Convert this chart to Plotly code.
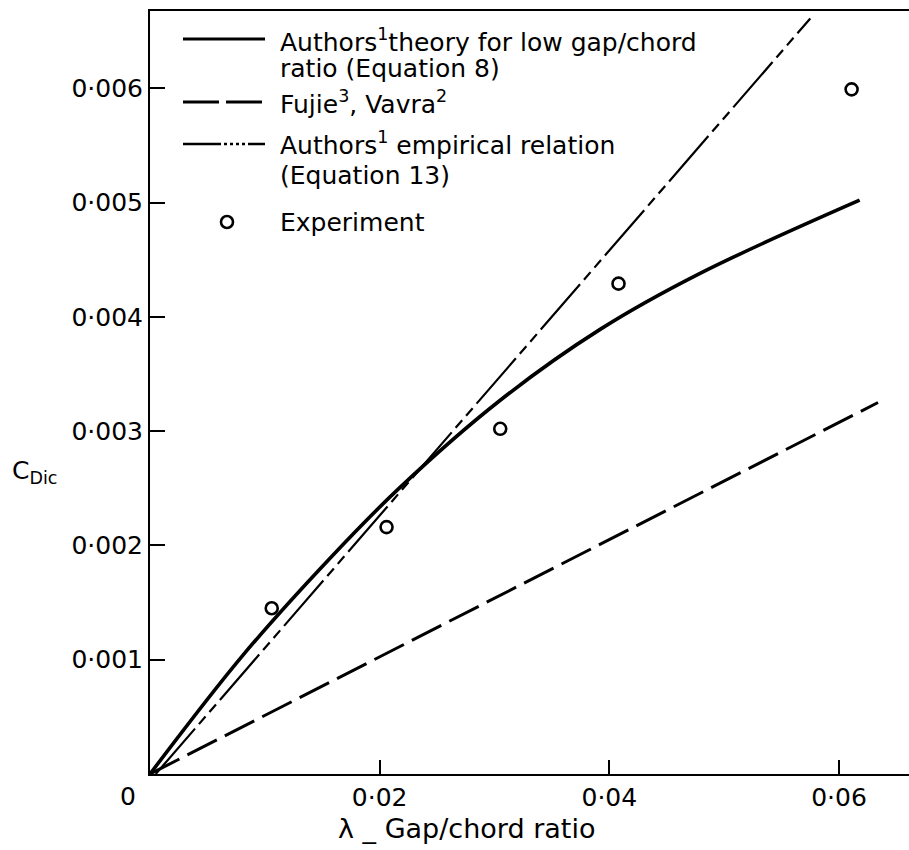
import plotly.graph_objects as go

# Gap/chord ratio (lambda) and drag coefficient C_Dic
theory_lam = [0.0, 0.0081, 0.0157, 0.0218, 0.0305, 0.0392, 0.0479, 0.0618]
theory_cd = [0.0, 0.00104, 0.00189, 0.00251, 0.00327, 0.00389, 0.00438, 0.00502]

fujie_lam = [0.0, 0.0634]
fujie_cd = [0.0, 0.00325]

empirical_lam = [0.0005, 0.0575]
empirical_cd = [0.0, 0.00661]

exp_lam = [0.0106, 0.0206, 0.0305, 0.0408, 0.0611]
exp_cd = [0.00145, 0.00216, 0.00302, 0.00429, 0.00599]

x_ticks = [0.02, 0.04, 0.06]
x_ticktext = ["0·02", "0·04", "0·06"]
y_ticks = [0.001, 0.002, 0.003, 0.004, 0.005, 0.006]
y_ticktext = ["0·001", "0·002", "0·003", "0·004", "0·005", "0·006"]

FONT = "DejaVu Sans"
W, H = 909, 850
ML, MR, MT, MB = 150, 0, 11, 76
PW, PH = W - ML - MR, H - MT - MB


def px(x):
    return (x - ML) / PW


def py(y):
    return (H - MB - y) / PH


fig = go.Figure()

fig.add_trace(go.Scatter(x=fujie_lam, y=fujie_cd, mode="lines",
                         line=dict(color="black", width=3, dash="33px,9px"),
                         showlegend=False))
fig.add_trace(go.Scatter(x=empirical_lam, y=empirical_cd, mode="lines",
                         line=dict(color="black", width=2.2,
                                   dash="60px,6px,10px,6px,10px,6px"),
                         showlegend=False))
fig.add_trace(go.Scatter(x=theory_lam, y=theory_cd, mode="lines",
                         line=dict(color="black", width=3.6, shape="spline", smoothing=1.0),
                         showlegend=False))
fig.add_trace(go.Scatter(x=exp_lam, y=exp_cd, mode="markers",
                         marker=dict(symbol="circle-open", size=12, color="black",
                                     line=dict(width=2.6, color="black")),
                         showlegend=False))

# Hand-drawn key in the upper left of the plot
shapes = []
key_x0, key_x1 = 183, 265
shapes.append(dict(type="line", xref="paper", yref="paper",
                   x0=px(key_x0), x1=px(key_x1), y0=py(39), y1=py(39),
                   line=dict(color="black", width=3)))
shapes.append(dict(type="line", xref="paper", yref="paper",
                   x0=px(key_x0), x1=px(key_x1), y0=py(102), y1=py(102),
                   line=dict(color="black", width=3, dash="36px,7px")))
shapes.append(dict(type="line", xref="paper", yref="paper",
                   x0=px(key_x0), x1=px(key_x1), y0=py(144), y1=py(144),
                   line=dict(color="black", width=2.4,
                             dash="38px,3px,3px,3px,3px,3px,3px,3px,3px,3px,30px")))
shapes.append(dict(type="circle", xref="paper", yref="paper",
                   x0=px(221), x1=px(233), y0=py(216), y1=py(228),
                   line=dict(color="black", width=2.6)))

annotations = []
key_text = [
    ("Authors<sup>1</sup>theory for low gap/chord", 40),
    ("ratio (Equation 8)", 68),
    ("Fujie<sup>3</sup>, Vavra<sup>2</sup>", 103),
    ("Authors<sup>1</sup> empirical relation", 144),
    ("(Equation 13)", 175),
    ("Experiment", 222),
]
for txt, yy in key_text:
    annotations.append(dict(text=txt, xref="paper", yref="paper", x=px(278), y=py(yy),
                            xanchor="left", yanchor="middle", showarrow=False,
                            font=dict(family=FONT, size=25, color="black")))

annotations.append(dict(text="0", xref="paper", yref="paper", x=px(128), y=py(796),
                        xanchor="center", yanchor="middle", showarrow=False,
                        font=dict(family=FONT, size=25, color="black")))
annotations.append(dict(text="C<sub>Dic</sub>", xref="paper", yref="paper", x=px(10), y=py(472),
                        xanchor="left", yanchor="middle", showarrow=False,
                        font=dict(family=FONT, size=25, color="black")))
annotations.append(dict(text="λ _ Gap/chord ratio", xref="paper", yref="paper", x=px(466), y=py(828),
                        xanchor="center", yanchor="middle", showarrow=False,
                        font=dict(family=FONT, size=27, color="black")))

fig.update_layout(
    width=W, height=H,
    margin=dict(l=ML, r=MR, t=MT, b=MB, pad=0),
    paper_bgcolor="white", plot_bgcolor="white",
    shapes=shapes, annotations=annotations,
    showlegend=False,
    xaxis=dict(range=[0, PW / 11483], tickvals=x_ticks, ticktext=x_ticktext,
               ticks="inside", ticklen=14, tickwidth=2, tickcolor="black",
               showline=True, linecolor="black", linewidth=2, mirror=True,
               showgrid=False, zeroline=False,
               tickfont=dict(family=FONT, size=25, color="black")),
    yaxis=dict(range=[0, PH / 114300], tickvals=y_ticks, ticktext=y_ticktext,
               ticks="inside", ticklen=15, tickwidth=2, tickcolor="black",
               showline=True, linecolor="black", linewidth=2,
               showgrid=False, zeroline=False,
               tickfont=dict(family=FONT, size=25, color="black")),
)

fig.write_html("out.html")
